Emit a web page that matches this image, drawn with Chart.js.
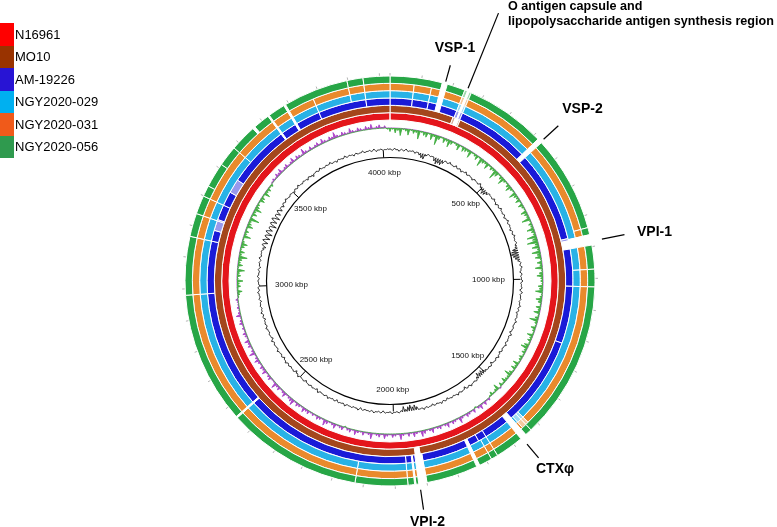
<!DOCTYPE html>
<html lang="en">
<head>
<meta charset="UTF-8">
<script src="https://cdn.jsdelivr.net/npm/chart.js@4.4.1/dist/chart.umd.min.js"></script>
<style>
  html, body { margin: 0; padding: 0; background: #fff; }
  body { width: 777px; height: 527px; position: relative; overflow: hidden;
         font-family: Arial, "Liberation Sans", sans-serif; }
  canvas { position: absolute; left: 0; top: 0; }
  .legend { position: absolute; left: 0; top: 23px; }
  .legend-item { display: flex; align-items: center; height: 22.5px; font-size: 13px; color: #000; }
  .legend-item .sw { width: 14px; height: 22.5px; margin-right: 1px; }
</style>
</head>
<body>
<canvas id="rings" width="777" height="527"></canvas>
<canvas id="graphs" width="777" height="527"></canvas>
<div class="legend" id="legend"></div>

<script>
// genome length of the reference (chr I + chr II), kbp
const genomeLength = 4033;

const genomeNames = ['N16961', 'MO10', 'AM-19226', 'NGY2020-029', 'NGY2020-031', 'NGY2020-056'];
const legendColors = ['#ff0000', '#993300', '#2814d4', '#00b0f0', '#f05a1a', '#2f9a4e'];
const ringColors = ['#e4151b', '#a4461c', '#1a1ad8', '#28b2e6', '#e98a2c', '#27a646'];

// regions with no BLAST hit (white), kbp
const gapsN16961 = [];
const gapsMO10 = [[245, 258], [1906, 1924]];
const gapsAM19226 = [[166, 182], [250, 254], [518, 533], [866, 895], [1552, 1572], [1726, 1736],
  [1900, 1926], [1935, 1939], [2556, 2561], [3624, 3629], [3684, 3690]];
const gapsNGY029 = [[166, 182], [249, 255], [518, 533], [862, 895], [1552, 1572], [1726, 1736],
  [1900, 1926], [1935, 1939], [2556, 2561], [3624, 3629], [3684, 3690]];
const gapsNGY031 = [[166, 182], [249, 255], [518, 533], [862, 895], [1552, 1572], [1726, 1736],
  [1900, 1926], [1935, 1939], [2556, 2561], [3624, 3629], [3684, 3690]];
const gapsNGY056 = [[166, 182], [249, 255], [518, 533], [862, 895], [1552, 1572], [1726, 1736],
  [1900, 1926], [1935, 1939], [2556, 2561], [3563, 3571], [3624, 3629], [3684, 3690]];

// lower identity stretches (pale)
const paleN16961 = [];
const paleMO10 = [[236, 245], [258, 264]];
const paleAM19226 = [[240, 250], [254, 262], [858, 866], [3205, 3245], [3350, 3400]];
const paleNGY029 = [[240, 249], [255, 262], [1520, 1545]];
const paleNGY031 = [[240, 249], [255, 262], [1520, 1545]];
const paleNGY056 = [[240, 249], [255, 262]];

// short breaks between hits (thin white lines)
const breaksN16961 = [];
const breaksMO10 = [];
const breaksAM19226 = [79, 136, 1027, 1231, 1662, 1692, 1960, 2980, 3166, 3240, 3299, 3777, 3948];
const breaksNGY029 = [79, 136, 971, 1027, 1530, 1662, 1684, 1960, 2127, 2980, 3166, 3240, 3299, 3478, 3777, 3897, 3948];
const breaksNGY031 = [79, 136, 839, 971, 1027, 1530, 1662, 1684, 1960, 2127, 2980, 3166, 3240, 3299, 3478, 3777, 3897, 3948];
const breaksNGY056 = [839, 971, 1027, 1530, 1662, 1684, 1960, 2127, 2980, 3166, 3240, 3299, 3334, 3413, 3478, 3627, 3897, 3948];

// GC content deviation (%), 360 windows (one per degree)
const gcContent = [
  1, -1, 2, 0, -2, 1, -1, 2, -1, 0,
  1, -2, 0, -3, -6, -7, -2, 1, -1, 0,
  -5, -8, -6, -7, -4, 1, -1, 2, 0, -1,
  2, -1, 1, -2, 0, 2, -1, 1, 0, -2,
  1, 0, -1, 2, -2, -4, -7, -6, -3, 1,
  0, -1, 2, 0, -2, 1, -1, 2, 0, -1,
  1, -2, 0, 2, -1, 1, 0, -2, 1, -1,
  2, 0, -1, 1, -2, -3, -7, -9, -10, -8,
  -6, -3, 1, -1, 2, 0, -2, 1, -1, 0,
  2, -1, 0, 1, -2, 2, -1, 0, 1, -1,
  0, 2, -1, 1, -2, 0, 1, -1, 2, 0,
  -1, 1, 0, -2, 2, -1, 0, 1, -1, 2,
  0, -1, 1, -2, 0, 2, -1, 1, 0, -3,
  1, -1, 0, -2, -4, -6, -5, -7, -3, 1,
  -1, 0, 2, -1, 1, -3, 0, 1, -1, 2,
  0, -1, 1, 0, -2, 1, -1, 2, 0, -1,
  1, -2, 0, 1, -1, 2, -1, 0, -4, -7,
  -5, -8, -6, -3, -7, -2, 1, -1, 0, 2,
  -1, 0, 1, -2, 1, -1, 0, 2, -1, 1,
  0, -1, 1, -2, 2, 0, -1, 1, 0, -1,
  2, -1, 0, 1, -2, 1, -1, 0, 2, -1,
  1, 0, -1, 2, -2, 0, 1, -1, 1, 0,
  -2, 1, 0, -1, 2, -1, -3, 1, 0, -1,
  1, -1, 2, 0, -2, 1, -1, 0, 2, -1,
  0, 1, -1, 2, -2, 0, 1, -1, 0, 2,
  -1, 1, 0, -2, 1, -1, 2, 0, -1, 1,
  0, -2, 1, -1, 0, 2, -1, 1, -2, 0,
  1, -1, 2, 0, -1, 1, -2, 0, 1, -1,
  2, -1, 0, 1, -2, -4, 2, -5, 3, -6,
  2, -7, 3, -5, 1, -8, 2, -6, 3, -7,
  1, -5, 2, -4, 0, -3, 1, -1, 2, 0,
  -1, 1, 0, -2, 1, -1, 2, 0, -1, 1,
  0, -2, 1, -1, -3, 0, 1, -1, 2, 0,
  -1, 1, 0, 2, -1, 0, -2, 1, 0, -1,
  2, -1, 1, 0, -2, 1, -1, 0, 2, -1,
  0, 1, -1, 2, -2, 0, 1, -1, 0, 1
];

// GC skew (x100), same windows
const gcSkew = [
  3, 1, 4, 2, 6, 1, 2, 5, 1, 3,
  2, 7, 1, 3, 4, 1, 5, 2, 8, 3,
  1, 4, 2, 6, 3, 1, 2, 5, 1, 4,
  3, 2, 6, 1, 2, 4, 1, 7, 3, 2,
  5, 1, 3, 2, 8, 4, 1, 3, 6, 2,
  1, 3, 5, 2, 1, 6, 3, 2, 4, 1,
  4, 2, 1, 5, 3, 2, 7, 1, 3, 2,
  6, 3, 2, 8, 4, 9, 3, 6, 2, 7,
  3, 5, 1, 4, 2, 6, 1, 3, 5, 2,
  2, 1, 4, 3, 6, 1, 2, 5, 3, 1,
  4, 2, 5, 1, 3, 7, 2, 1, 4, 2,
  1, 5, 2, 3, 1, 4, 6, 2, 3, 1,
  3, 2, 1, 5, 2, 4, 1, 3, 6, 2,
  2, 4, 1, 3, -1, 5, 2, 1, 3, 1,
  -2, -1, -3, -1, -4, -2, 1, -3, -1, -2,
  -3, -1, -2, -5, -1, -2, -3, -1, -4, -2,
  -1, -3, -2, -1, -4, -2, -1, -3, -5, -1,
  -2, -4, -1, -3, -1, -2, -5, -1, -2, -3,
  -1, -2, -4, -1, -3, -2, -1, -5, -2, -1,
  -3, -1, -2, -4, -1, -3, -2, 1, -3, -2,
  -1, -4, -2, -1, -3, -5, -1, -2, -3, -1,
  -2, -1, -3, -2, -4, -1, -2, -3, -1, -5,
  -3, -2, -1, -4, -2, -1, -3, -2, -5, -1,
  -1, -3, -2, -1, -4, -2, -3, -1, -2, -4,
  -2, -1, -5, -2, -1, -3, -2, -4, -1, -2,
  -3, -1, -2, -1, -3, -2, -1, -4, -2, -1,
  -2, -1, -1, -2, 1, 2, 4, 1, 3, 2,
  5, 1, 3, 2, 6, 1, 4, 2, 3, 7,
  2, 4, 1, 3, 5, 2, 1, 6, 2, 3,
  1, 5, 3, 2, 8, 1, 4, 2, 6, 3,
  2, 1, 4, 3, 1, 5, 2, 3, 1, 2,
  -1, -2, -1, -3, -2, -4, -1, -2, -3, -1,
  -2, -4, -1, -3, -2, -1, -5, -2, -1, -3,
  -1, -2, -3, -1, -4, -2, -1, -3, -2, -5,
  -2, -1, -3, -2, -1, -4, -2, -1, -3, -2,
  -1, -3, -2, -4, -1, -2, -3, -1, -2, 1
];

const rulerTicks = [500, 1000, 1500, 2000, 2500, 3000, 3500, 4000];

const featureNames = ['VSP-1', ['O antigen capsule and', 'lipopolysaccharide antigen synthesis region'],
  'VSP-2', 'VPI-1', 'CTX\u03c6', 'VPI-2'];
const featureKbp = [175, 247, 530, 883, 1568, 1923];

// ---------- legend ----------
const legendEl = document.getElementById('legend');
genomeNames.forEach((name, i) => {
  const row = document.createElement('div');
  row.className = 'legend-item';
  row.innerHTML = '<span class="sw" style="background:' + legendColors[i] + '"></span>' + name;
  legendEl.appendChild(row);
});

// ---------- rings ----------
function pale(hex) {
  const n = parseInt(hex.slice(1), 16);
  const mix = c => Math.round(c + (255 - c) * 0.55);
  return 'rgb(' + mix(n >> 16) + ',' + mix((n >> 8) & 255) + ',' + mix(n & 255) + ')';
}

function buildRing(gaps, paleParts, breaks, color) {
  const cuts = new Set([0, genomeLength]);
  gaps.concat(paleParts).forEach(([a, b]) => { cuts.add(a); cuts.add(b); });
  breaks.forEach(k => cuts.add(k));
  const pts = [...cuts].sort((a, b) => a - b);
  const sizes = [], colors = [];
  const inside = (list, m) => list.some(([a, b]) => m > a && m < b);
  for (let i = 0; i < pts.length - 1; i++) {
    const mid = (pts[i] + pts[i + 1]) / 2;
    sizes.push(pts[i + 1] - pts[i]);
    colors.push(inside(gaps, mid) ? 'rgba(255,255,255,0)' : inside(paleParts, mid) ? pale(color) : color);
  }
  return { data: sizes, backgroundColor: colors };
}

const ringSets = [
  buildRing(gapsN16961, paleN16961, breaksN16961, ringColors[0]),
  buildRing(gapsMO10, paleMO10, breaksMO10, ringColors[1]),
  buildRing(gapsAM19226, paleAM19226, breaksAM19226, ringColors[2]),
  buildRing(gapsNGY029, paleNGY029, breaksNGY029, ringColors[3]),
  buildRing(gapsNGY031, paleNGY031, breaksNGY031, ringColors[4]),
  buildRing(gapsNGY056, paleNGY056, breaksNGY056, ringColors[5])
];

const plotPadding = { left: 170, right: 167, top: 61, bottom: 26 };

new Chart(document.getElementById('rings'), {
  type: 'doughnut',
  data: {
    // outermost dataset first
    datasets: ringSets.slice().reverse().map((r, i) => ({
      label: genomeNames[genomeNames.length - 1 - i],
      data: r.data,
      backgroundColor: r.backgroundColor,
      borderColor: '#ffffff',
      borderWidth: 1
    }))
  },
  options: {
    responsive: false,
    animation: false,
    events: [],
    radius: 205,
    cutout: (161 / 205 * 100) + '%',
    layout: { padding: plotPadding },
    plugins: { legend: { display: false }, tooltip: { enabled: false } }
  }
});

// ---------- GC content / GC skew + ruler ----------
const gcBase = 131.5, skewBase = 153, rulerRadius = 123.5;

// each window is drawn as a spike out of the baseline and back (bar-graph look)
const spikes = (vals, base, k) => vals.flatMap(v => [base + v * k, base]);

const kbpPoint = (scale, kbp, rad) => {
  const a = kbp / genomeLength * 2 * Math.PI;
  const d = scale.getDistanceFromCenterForValue(rad);
  return [scale.xCenter + d * Math.sin(a), scale.yCenter - d * Math.cos(a)];
};

const callouts = [
  { r1: 207, r2: 224, x: 455, y: 48, size: 14, align: 'center' },
  { r1: 208, r2: 289, x: 508, y: 7, size: 12.6, align: 'left', lead: 15 },
  { r1: 209, r2: 229, x: 582.5, y: 109, size: 14, align: 'center' },
  { r1: 216, r2: 239, x: 654.5, y: 232, size: 14, align: 'center' },
  { r1: 213, r2: 231, x: 555, y: 469, size: 14, align: 'center' },
  { r1: 211, r2: 231, x: 427.5, y: 522, size: 14, align: 'center' }
];

const rulerPlugin = {
  id: 'ruler',
  afterDatasetsDraw(chart) {
    const s = chart.scales.r;
    const ctx = chart.ctx;
    const seg = (p, q) => { ctx.beginPath(); ctx.moveTo(p[0], p[1]); ctx.lineTo(q[0], q[1]); ctx.stroke(); };
    ctx.save();

    // major ticks on the ruler circle
    ctx.strokeStyle = '#000';
    ctx.lineWidth = 1;
    rulerTicks.forEach(k => seg(kbpPoint(s, k, rulerRadius), kbpPoint(s, k, rulerRadius + 7)));

    // faint 100 kbp ticks outside the outer ring
    ctx.strokeStyle = '#b4b4b4';
    for (let k = 0; k <= genomeLength; k += 100) seg(kbpPoint(s, k, 205.5), kbpPoint(s, k, 208));

    // ruler labels
    ctx.fillStyle = '#111';
    ctx.font = '8px Arial, "Liberation Sans", sans-serif';
    ctx.textAlign = 'center';
    ctx.textBaseline = 'middle';
    rulerTicks.forEach(k => {
      const a = k / genomeLength * 2 * Math.PI;
      const rad = 108.5 - 10 * Math.pow(Math.abs(Math.sin(a)), 8);
      const p = kbpPoint(s, k, rad);
      ctx.fillText(k + ' kbp', p[0], p[1]);
    });

    // feature call-outs
    ctx.strokeStyle = '#000';
    ctx.lineWidth = 1.2;
    ctx.fillStyle = '#000';
    featureKbp.forEach((k, i) => {
      const c = callouts[i];
      seg(kbpPoint(s, k, c.r1), kbpPoint(s, k, c.r2));
      ctx.font = 'bold ' + c.size + 'px Arial, "Liberation Sans", sans-serif';
      ctx.textAlign = c.align;
      const lines = Array.isArray(featureNames[i]) ? featureNames[i] : [featureNames[i]];
      lines.forEach((t, j) => ctx.fillText(t, c.x, c.y + j * (c.lead || 0)));
    });
    ctx.restore();
  }
};

new Chart(document.getElementById('graphs'), {
  type: 'radar',
  data: {
    labels: gcContent.flatMap((_, i) => {
      const kbp = Math.round(i * genomeLength / gcContent.length);
      return [kbp + ' kbp', kbp + ' kbp'];
    }),
    datasets: [
      {
        label: 'GC content',
        data: spikes(gcContent, gcBase, 0.75),
        borderColor: '#1c1c1c',
        borderWidth: 0.9,
        fill: false
      },
      {
        label: 'GC skew+',
        data: spikes(gcSkew.map(v => Math.max(v, 0)), skewBase, -1.2),
        borderColor: '#3aab3a',
        borderWidth: 0.8,
        backgroundColor: '#46b046',
        fill: 3
      },
      {
        label: 'GC skew-',
        data: spikes(gcSkew.map(v => Math.min(v, 0)), skewBase, -1.2),
        borderColor: '#a436c4',
        borderWidth: 0.8,
        backgroundColor: '#b04ccc',
        fill: 3
      },
      {
        label: 'skew baseline',
        data: spikes(gcSkew.map(() => 0), skewBase, 1),
        borderColor: 'rgba(0,0,0,0)',
        borderWidth: 1,
        fill: false
      }
    ]
  },
  options: {
    responsive: false,
    animation: false,
    events: [],
    layout: { padding: plotPadding },
    elements: { point: { radius: 0 }, line: { tension: 0 } },
    scales: {
      r: {
        min: 0,
        max: 220,
        angleLines: { display: false },
        pointLabels: { display: false },
        ticks: { display: false },
        grid: { circular: true, color: '#000', lineWidth: 1.2 },
        afterBuildTicks: scale => { scale.ticks = [{ value: 0 }, { value: rulerRadius }]; }
      }
    },
    plugins: { legend: { display: false }, tooltip: { enabled: false } }
  },
  plugins: [rulerPlugin]
});
</script>
</body>
</html>
